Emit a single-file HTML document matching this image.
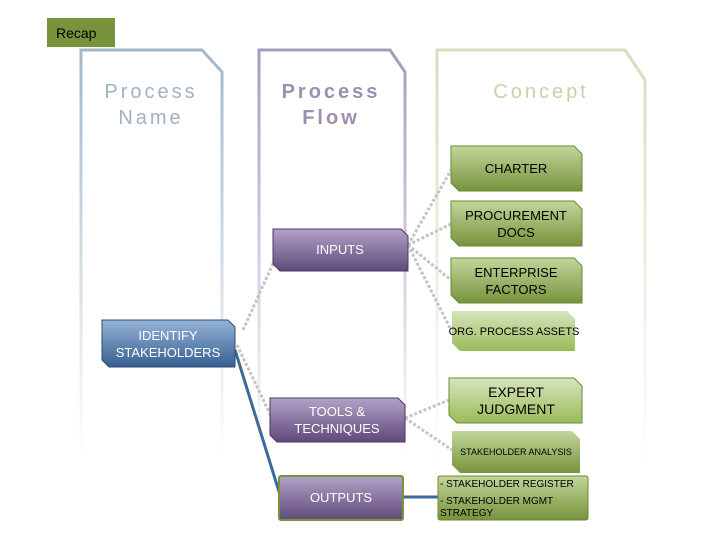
<!DOCTYPE html><html><head><style>body{margin:0;background:#fff}svg{display:block}text{font-family:"Liberation Sans",sans-serif}</style></head><body>
<svg width="720" height="540" viewBox="0 0 720 540" xmlns="http://www.w3.org/2000/svg">
<defs>
<linearGradient id="f1" x1="0" y1="0" x2="0" y2="1"><stop offset="0" stop-color="#a3b7c9"/><stop offset="1" stop-color="#a3b7c9" stop-opacity="0"/></linearGradient>
<linearGradient id="f2" x1="0" y1="0" x2="0" y2="1"><stop offset="0" stop-color="#a79bbb"/><stop offset="1" stop-color="#a79bbb" stop-opacity="0"/></linearGradient>
<linearGradient id="f3" x1="0" y1="0" x2="0" y2="1"><stop offset="0" stop-color="#d3dfbf"/><stop offset="1" stop-color="#d3dfbf" stop-opacity="0"/></linearGradient>
<linearGradient id="gr" x1="0" y1="0" x2="0" y2="1"><stop offset="0" stop-color="#c3d69b"/><stop offset="1" stop-color="#77933c"/></linearGradient>
<linearGradient id="grl" x1="0" y1="0" x2="0" y2="1"><stop offset="0" stop-color="#d7e4bd"/><stop offset="1" stop-color="#9bbb59"/></linearGradient>
<linearGradient id="pu" x1="0" y1="0" x2="0" y2="1"><stop offset="0" stop-color="#b3a2c7"/><stop offset="1" stop-color="#5f497a"/></linearGradient>
<linearGradient id="bl" x1="0" y1="0" x2="0" y2="1"><stop offset="0" stop-color="#95b3d7"/><stop offset="1" stop-color="#376092"/></linearGradient>
</defs>
<rect x="47" y="18" width="68" height="29" fill="#77933c"/>
<text x="56" y="38" font-size="14" fill="#000">Recap</text>
<path d="M81 460V50H202L222 72V460" fill="none" stroke="url(#f1)" stroke-width="3"/>
<path d="M259 460V50H390L405 72V460" fill="none" stroke="url(#f2)" stroke-width="3"/>
<path d="M437 470V50H625L645 80V470" fill="none" stroke="url(#f3)" stroke-width="3"/>
<g font-size="20" letter-spacing="3" text-anchor="middle">
<text x="151" y="98" fill="#9fb3c4">Process</text><text x="151" y="124" fill="#9fb3c4">Name</text>
<text x="331" y="98" fill="#9f8fae" font-weight="bold">Process</text><text x="331" y="124" fill="#9f8fae" font-weight="bold">Flow</text>
<text x="541" y="98" fill="#c4d4a8">Concept</text>
</g>
<g fill="none" stroke="#c4c4c4" stroke-width="3" stroke-dasharray="3 2">
<path d="M408 245L451 170M408 245L451 224M408 245L451 280M408 245L451 330M243 330L285 237M237 345L272 418M405 418L449 400M405 418L452 450"/>
</g>
<path d="M235 350L281 498M403 497H438" stroke="#3d6a9a" stroke-width="3" fill="none"/>
<g font-size="13" text-anchor="middle">
<path d="M451 146H574L582 154V191H459L451 183Z" fill="url(#gr)" stroke="#6b8a33"/>
<text x="516" y="173">CHARTER</text>
<path d="M451 201H574L582 209V246H459L451 238Z" fill="url(#gr)" stroke="#6b8a33"/>
<text x="516" y="220">PROCUREMENT</text><text x="516" y="237">DOCS</text>
<path d="M451 258H574L582 266V303H459L451 295Z" fill="url(#gr)" stroke="#6b8a33"/>
<text x="516" y="277">ENTERPRISE</text><text x="516" y="294">FACTORS</text>
<path d="M452 311H567L575 319V351H460L452 343Z" fill="url(#grl)"/>
<text x="514" y="335" font-size="11">ORG. PROCESS ASSETS</text>
<path d="M449 378H574L582 386V423H457L449 415Z" fill="url(#grl)" stroke="#6b8a33"/>
<text x="516" y="397" font-size="14">EXPERT</text><text x="516" y="414" font-size="14">JUDGMENT</text>
<path d="M452 431H572L580 439V473H460L452 465Z" fill="url(#gr)"/>
<text x="516" y="455" font-size="9">STAKEHOLDER ANALYSIS</text>
<path d="M273 229H401L408 236V271H280L273 264Z" fill="url(#pu)" stroke="#4a3a63"/>
<text x="340" y="254" fill="#fff">INPUTS</text>
<path d="M270 398H398L405 405V442H277L270 435Z" fill="url(#pu)" stroke="#4a3a63"/>
<text x="337" y="416" fill="#fff">TOOLS &amp;</text><text x="337" y="433" fill="#fff">TECHNIQUES</text>
<rect x="279" y="476" width="124" height="44" rx="2" fill="url(#pu)" stroke="#77933c" stroke-width="2"/>
<text x="341" y="502" fill="#fff">OUTPUTS</text>
<path d="M102 320H228L235 327V367H109L102 360Z" fill="url(#bl)" stroke="#2c4d75"/>
<text x="168" y="340" fill="#fff">IDENTIFY</text><text x="168" y="357" fill="#fff">STAKEHOLDERS</text>
<rect x="438" y="476" width="150" height="44" rx="2" fill="url(#gr)" stroke="#6b8a33"/>
<g text-anchor="start" font-size="10"><text x="440" y="487">- STAKEHOLDER REGISTER</text><text x="440" y="504">- STAKEHOLDER MGMT</text><text x="440" y="516">STRATEGY</text></g>
</g>
</svg></body></html>
